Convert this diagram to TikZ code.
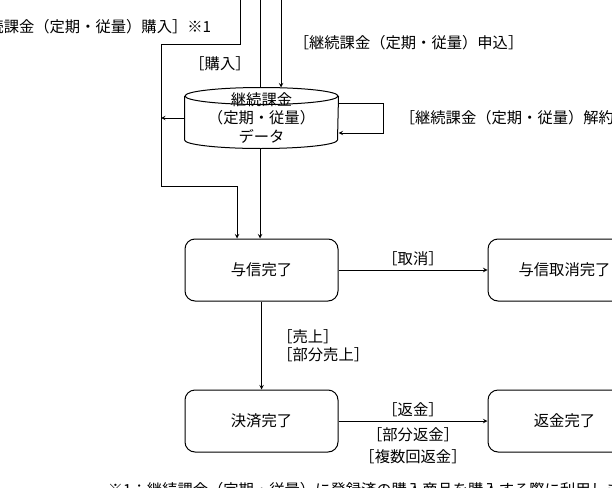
\documentclass[tikz,border=0pt]{standalone}
\usepackage{fontspec}
\setmainfont{Noto Sans CJK JP}
\usetikzlibrary{arrows, calc}
\tikzstyle{arrow} = [->,>=stealth]
\tikzstyle{state} = [draw, rounded corners=10pt, minimum width=153pt, minimum height=62pt, inner sep=0pt]
\tikzstyle{datatext} = [align=center, minimum width=153pt, minimum height=60pt, inner sep=0pt]

\begin{document}
\begin{tikzpicture}[x=1pt,y=-1pt,line width=1pt,font=\fontsize{15.3}{18.5}\selectfont]
        \useasboundingbox (0,0) rectangle (612,487);
        %状態
        \node[state] (yoshin) at (261.5,270) {与信完了};
        \node[state] (torikeshi) at (564.5,270) {与信取消完了};
        \node[state] (kessai) at (261.5,421) {決済完了};
        \node[state] (henkin) at (564.5,421) {返金完了};
        %データ
        \node[datatext] (data) at (261.5,118) {継続課金\\（定期・従量）\\データ};
        \draw ($(data.north west)+(0,8.5)$) -- ($(data.south west)+(0,-8.5)$)
        arc[start angle=180, end angle=0, x radius=76.5, y radius=8.5]
        -- ($(data.north east)+(0,8.5)$);
        \draw ($(data.north)+(0,8.5)$) ellipse [x radius=76.5, y radius=8.5];
        %購入 ※1
        \coordinate (kounyu1) at (240,0);
        \coordinate (leftline) at (161,45);
        \coordinate (bend1) at (237,186);
        \draw[arrow] (kounyu1) |- (leftline) -- (leftline |- bend1) -- (bend1) -- (bend1 |- yoshin.north);
        \node[anchor=east] (lbl-kounyu1) at (215,27) {［継続課金（定期・従量）購入］※1};
        %購入
        \coordinate (kounyu) at (260,0);
        \draw (kounyu) -- (kounyu |- data.north);
        \draw[arrow] (kounyu |- data.south) -- (kounyu |- yoshin.north);
        \node (lbl-kounyu) at (220,64) {［購入］};
        %申込
        \coordinate (moushikomi) at (281,0);
        \draw[arrow] (moushikomi) -- (moushikomi |- data.north);
        \node[anchor=west] (lbl-moushikomi) at (290,43) {［継続課金（定期・従量）申込］};
        %参照
        \draw[arrow] (data.west) -- (data.west -| leftline);
        %解約
        \draw[arrow] ($(data.east)+(0,-15)$) -- ++(45,0) -- ++(0,30) -- ($(data.east)+(0,15)$);
        \node[anchor=west] (lbl-kaiyaku) at (396,118) {［継続課金（定期・従量）解約］};
        %取消
        \draw[arrow] (yoshin) -- node[above] (lbl-torikeshi) {［取消］} (torikeshi);
        %売上
        \draw[arrow] (yoshin) -- node[right, xshift=12pt, align=left] (lbl-uriage) {［売上］\\［部分売上］} (kessai);
        %返金
        \draw[arrow] (kessai) -- node[above] (lbl-henkin) {［返金］}
        node[below, yshift=-3pt, align=center] (lbl-bubun) {［部分返金］\\[3pt]［複数回返金］} (henkin);
        %注記
        \node[anchor=west] (chuki) at (104,490) {※1：継続課金（定期・従量）に登録済の購入商品を購入する際に利用します。};
\end{tikzpicture}
\end{document}
